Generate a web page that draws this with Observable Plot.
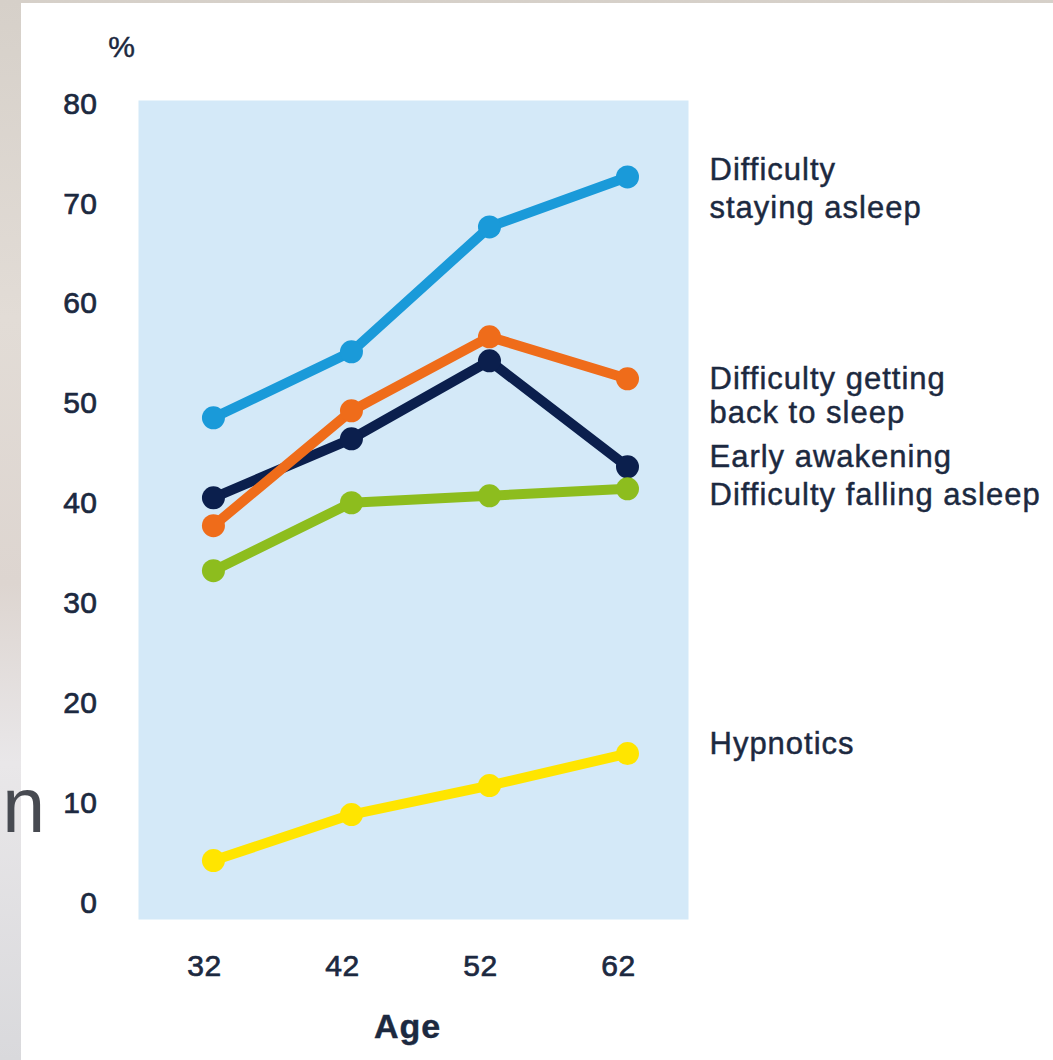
<!DOCTYPE html>
<html>
<head>
<meta charset="utf-8">
<script src="https://cdn.jsdelivr.net/npm/d3@7"></script>
<script src="https://cdn.jsdelivr.net/npm/@observablehq/plot@0.6"></script>
<style>
  html, body { margin: 0; padding: 0; }
  #page {
    position: relative; width: 1053px; height: 1060px; overflow: hidden;
    background: linear-gradient(to bottom, #d6d0c9 0%, #e2dcd6 30%, #ddd5d0 55%, #e9e7e9 72%, #d9d9dc 100%);
  }
  #card { position: absolute; left: 21px; top: 3px; right: 0; bottom: 0; background: #ffffff; }
  #bgtext {
    position: absolute; left: -155px; top: 767px; width: 200px; text-align: right;
    font-family: "Liberation Sans", Arial, sans-serif; font-size: 77px; line-height: 77px; color: #474a51;
  }
  #chart { position: absolute; left: 0; top: 0; }
  #chart svg text { letter-spacing: 1px; stroke: #1c2940; stroke-width: 0.45px; }
  #chart g[aria-label="x-axis tick label"] text,
  #chart g[aria-label="y-axis tick label"] text { letter-spacing: 0.5px; stroke-width: 0.7px; }
</style>
</head>
<body>
<div id="page">
  <div id="card"></div>
  <div id="bgtext">en</div>
  <div id="chart"></div>
</div>
<script>
// ---- Data ----
const ages = [32, 42, 52, 62];
const seriesNames = [
  "Difficulty staying asleep",
  "Difficulty getting back to sleep",
  "Early awakening",
  "Difficulty falling asleep",
  "Hypnotics"
];
const seriesLabels = [
  "Difficulty\nstaying asleep",
  "Difficulty getting\nback to sleep",
  "Early awakening",
  "Difficulty falling asleep",
  "Hypnotics"
];
const stayingAsleep = [48.6, 55.2, 67.7, 72.7];
const backToSleep   = [37.8, 49.3, 56.7, 52.5];
const earlyAwakening = [40.6, 46.5, 54.3, 43.7];
const fallingAsleep = [33.3, 40.1, 40.8, 41.5];
const hypnotics     = [4.3, 8.9, 11.8, 15.0];
const yTicks = [0, 10, 20, 30, 40, 50, 60, 70, 80];
const seriesColors = ["#1a9ad9", "#ef6c1a", "#0b1f4d", "#8dbd1e", "#ffe500"];

const seriesValues = [stayingAsleep, backToSleep, earlyAwakening, fallingAsleep, hypnotics];
const rows = seriesNames.flatMap((s, i) => ages.map((a, j) => ({series: s, age: a, value: seriesValues[i][j]})));
const lastRows = seriesNames.map((s, i) => ({series: s, label: seriesLabels[i], age: ages[ages.length - 1], value: seriesValues[i][ages.length - 1]}));

// draw order (back to front)
const drawOrder = ["Difficulty staying asleep", "Early awakening", "Difficulty getting back to sleep", "Difficulty falling asleep", "Hypnotics"];

const labelStyle = {
  "Difficulty staying asleep": {dy: 41, lineHeight: 1.226},
  "Difficulty getting back to sleep": {dy: 44, lineHeight: 1.097},
  "Early awakening": {dy: 0, lineHeight: 1},
  "Difficulty falling asleep": {dy: 16, lineHeight: 1},
  "Hypnotics": {dy: 0, lineHeight: 1}
};

const marks = [
  Plot.frame({fill: "#d4e9f8", stroke: "none"}),
  Plot.axisY({ticks: yTicks, tickSize: 0, tickPadding: 41, fontSize: 30, label: null}),
  Plot.axisX({ticks: ages, tickSize: 0, tickPadding: 35.5, fontSize: 30, dx: -9, label: null, tickFormat: d => String(d)}),
  Plot.text(["%"], {frameAnchor: "top-left", dx: -16.5, dy: -44, lineAnchor: "bottom", textAnchor: "middle", fontSize: 30}),
  Plot.text(["Age"], {frameAnchor: "bottom", dx: -6, dy: 118, lineAnchor: "bottom", fontSize: 34, fontWeight: "bold"})
];

for (const s of drawOrder) {
  const d = rows.filter(r => r.series === s);
  marks.push(Plot.line(d, {x: "age", y: "value", stroke: "series", strokeWidth: 10, strokeLinejoin: "round", strokeLinecap: "round"}));
  marks.push(Plot.dot(d, {x: "age", y: "value", fill: "series", r: 11.5}));
}

for (const row of lastRows) {
  const st = labelStyle[row.series];
  marks.push(Plot.text([row], {
    x: "age", y: "value", text: "label",
    dx: 82, dy: st.dy, lineHeight: st.lineHeight,
    textAnchor: "start", lineAnchor: "bottom", fontSize: 31, fill: "#1c2940"
  }));
}

const chart = Plot.plot({
  width: 1053,
  height: 1060,
  marginLeft: 138,
  marginRight: 365,
  marginTop: 100,
  marginBottom: 141,
  x: {domain: [26.57, 66.42]},
  y: {domain: [-1.6, 80.35]},
  color: {domain: seriesNames, range: seriesColors},
  style: {background: "transparent", fontFamily: "'Liberation Sans', Arial, sans-serif", color: "#1c2940", overflow: "visible"},
  marks
});
document.getElementById("chart").appendChild(chart);
</script>
</body>
</html>
